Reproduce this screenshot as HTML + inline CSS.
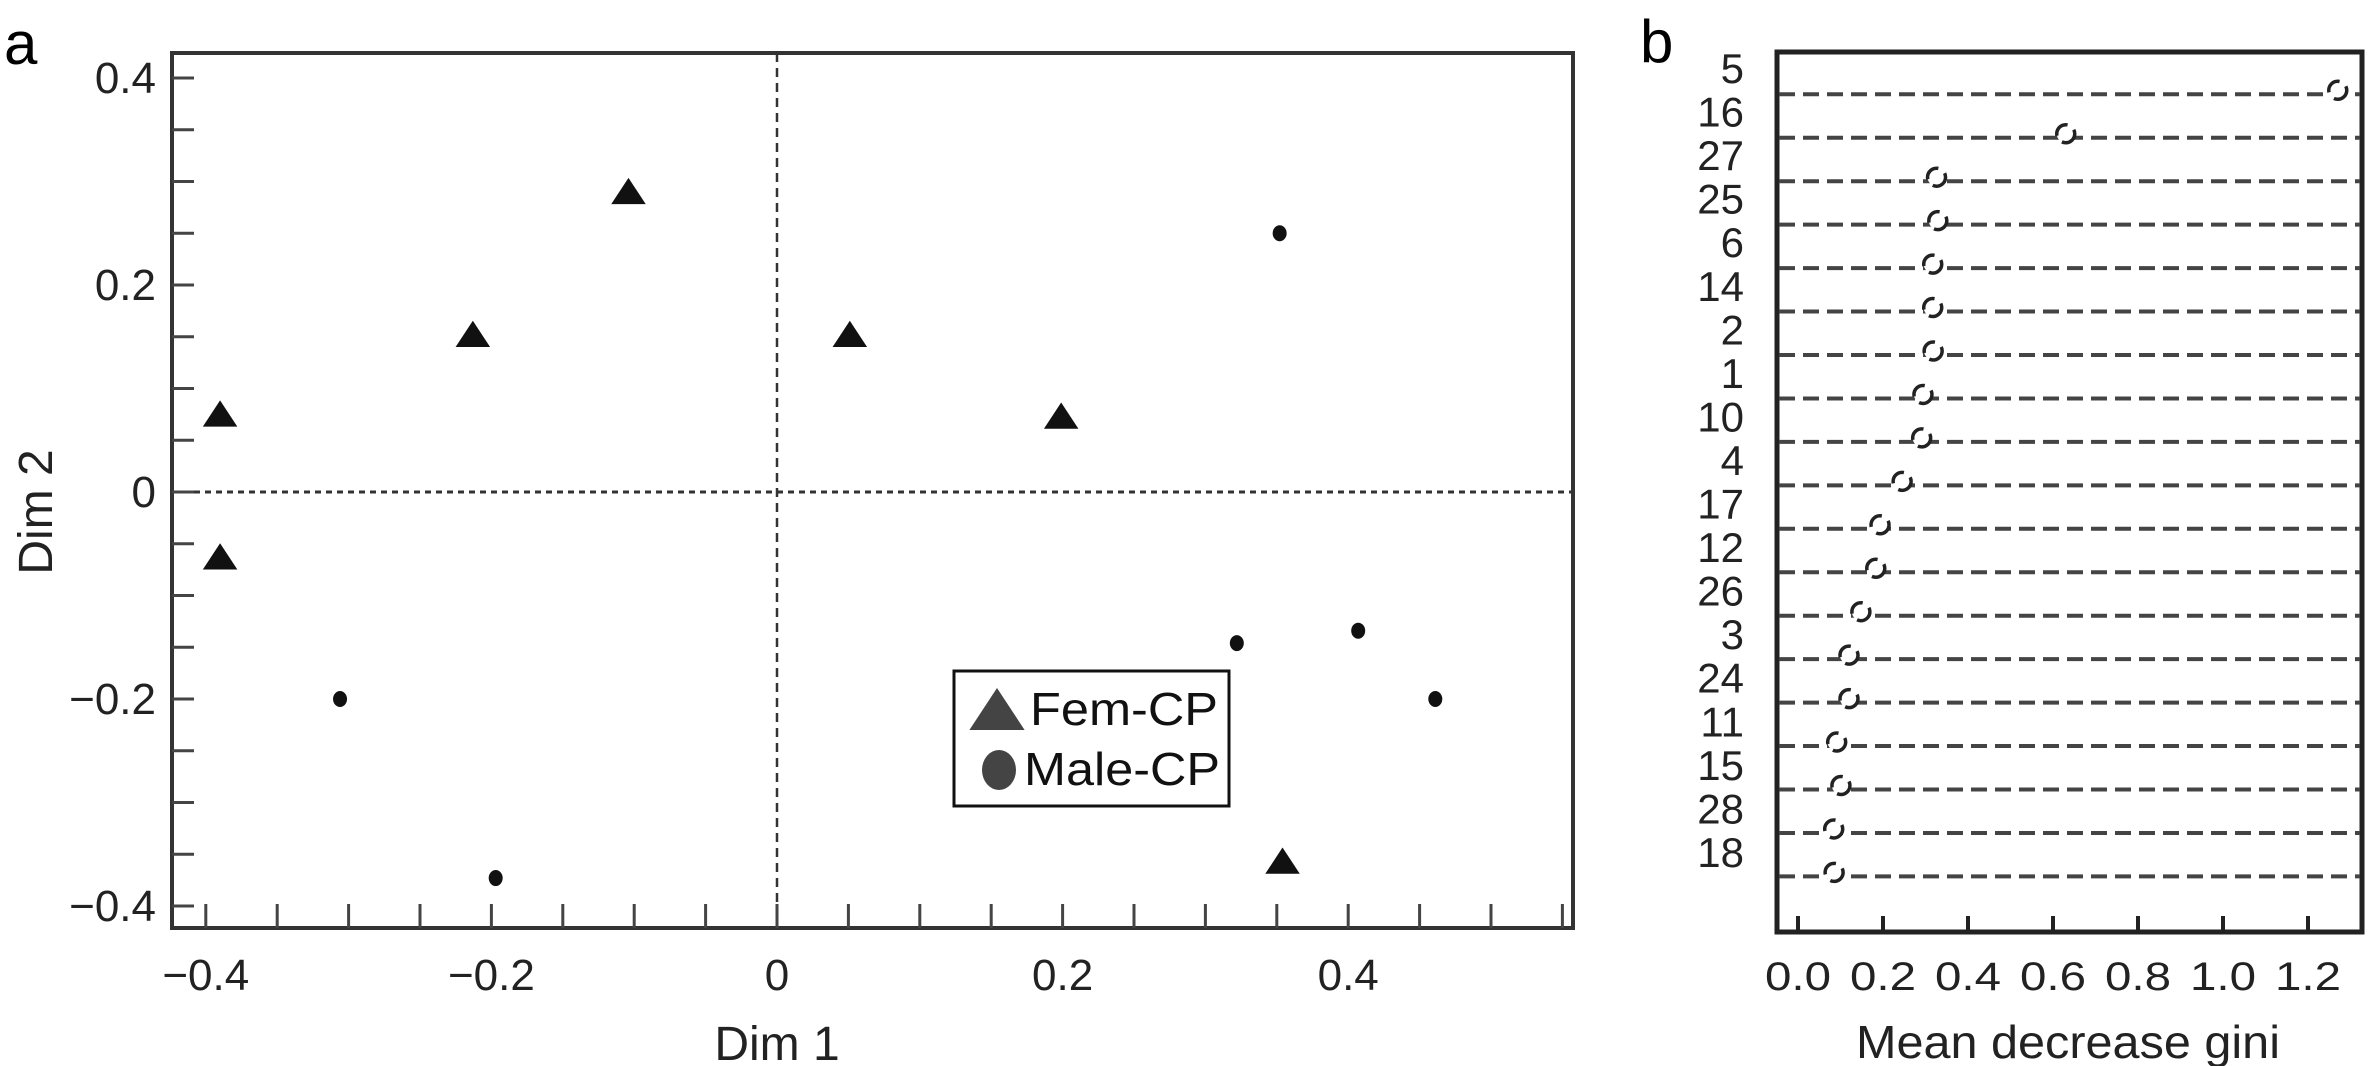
<!DOCTYPE html>
<html><head><meta charset="utf-8"><style>
html,body{margin:0;padding:0;background:#fff;}
svg{display:block;font-family:"Liberation Sans",sans-serif;}
</style></head><body>
<svg id="c" width="2376" height="1066" viewBox="0 0 2376 1066" xmlns="http://www.w3.org/2000/svg">
<text x="4" y="64" font-size="60">a</text>
<text x="1640" y="62" font-size="60">b</text>
<g id="pa"></g>
<g id="pb"></g>
</svg>
<script>
// Panel a data
const femX = [-0.39, -0.39, -0.213, -0.104, 0.051, 0.199, 0.354];
const femY = [0.074, -0.064, 0.151, 0.289, 0.151, 0.072, -0.358];
const maleX = [-0.306, -0.197, 0.352, 0.322, 0.407, 0.461];
const maleY = [-0.2, -0.373, 0.25, -0.146, -0.134, -0.2];
const aXTicks = [-0.4, -0.2, 0, 0.2, 0.4];
const aXTickLabels = ["\u22120.4", "\u22120.2", "0", "0.2", "0.4"];
const aYTicks = [0.4, 0.2, 0, -0.2, -0.4];
const aYTickLabels = ["0.4", "0.2", "0", "\u22120.2", "\u22120.4"];
// Panel b data
const bVars = ["5","16","27","25","6","14","2","1","10","4","17","12","26","3","24","11","15","28","18"];
const bLabels = ["5","16","27","25","6","14","2","1","10","4","17","12","26","3","24","11","15","28","18"];
const bValues = [1.27, 0.63, 0.326, 0.329, 0.317, 0.317, 0.318, 0.294, 0.291, 0.245, 0.193, 0.183, 0.148, 0.12, 0.12, 0.091, 0.101, 0.084, 0.085];
const bXTicks = [0, 0.2, 0.4, 0.6, 0.8, 1.0, 1.2];
const bXTickLabels = ["0.0","0.2","0.4","0.6","0.8","1.0","1.2"];

const NS = "http://www.w3.org/2000/svg";
function mk(parent, tag, attrs, txt) {
  const e = document.createElementNS(NS, tag);
  for (const k in attrs) e.setAttribute(k, attrs[k]);
  if (txt !== undefined) e.textContent = txt;
  parent.appendChild(e);
  return e;
}
// ---- Panel a ----
const pa = document.getElementById('pa');
const ax = v => 777 + v * 1428;
const ay = v => 492 - v * 1035;
const L = 172, R = 1573, T = 53, B = 928;
let e;
e = mk(pa, 'rect', {x: L, y: T, width: R - L, height: B - T, fill: 'none', stroke: '#333', 'stroke-width': 4});


e = mk(pa, 'line', {x1: ax(0), y1: T, x2: ax(0), y2: B, stroke: '#333', 'stroke-width': 2.5, 'stroke-dasharray': '9 6'});


e = mk(pa, 'line', {x1: L, y1: ay(0), x2: R, y2: ay(0), stroke: '#333', 'stroke-width': 3, 'stroke-dasharray': '6 5'});


for (let v = -0.4; v <= 0.551; v += 0.05) {
  e = mk(pa, 'line', {x1: ax(v), y1: B, x2: ax(v), y2: B - 24, stroke: '#444', 'stroke-width': 3});
  
  
}
for (let v = -0.4; v <= 0.401; v += 0.05) {
  e = mk(pa, 'line', {x1: L, y1: ay(v), x2: L + 22, y2: ay(v), stroke: '#444', 'stroke-width': 3});
  
  
}
aXTicks.forEach((v, i) => {
  e = mk(pa, 'text', {x: ax(v), y: 990, 'font-size': 44, 'text-anchor': 'middle', fill: '#222'}, aXTickLabels[i]);
  
  
});
aYTicks.forEach((v, i) => {
  e = mk(pa, 'text', {x: 156, y: ay(v) + 15, 'font-size': 44, 'text-anchor': 'end', fill: '#222'}, aYTickLabels[i]);
  
  
});
e = mk(pa, 'text', {x: 777, y: 1060, 'font-size': 48, 'text-anchor': 'middle', fill: '#222'}, 'Dim 1');


e = mk(pa, 'text', {x: 0, y: 0, 'font-size': 48, 'text-anchor': 'middle', fill: '#222', transform: 'translate(52,512) rotate(-90)'}, 'Dim 2');


function tri(g, cx, cy, s, fill) {
  return mk(g, 'polygon', {points: `${cx},${cy - s} ${cx - s * 1.15},${cy + s * 0.75} ${cx + s * 1.15},${cy + s * 0.75}`, fill: fill});
}
femX.forEach((v, i) => {
  e = tri(pa, ax(v), ay(femY[i]), 15, '#111');
  
  
});
maleX.forEach((v, i) => {
  e = mk(pa, 'ellipse', {cx: ax(v), cy: ay(maleY[i]), rx: 7, ry: 8, fill: '#111'});
  
  
});
const lg = mk(pa, 'g', {});


mk(lg, 'rect', {x: 954, y: 671, width: 275, height: 135, fill: '#fff', stroke: '#111', 'stroke-width': 3});
e = tri(lg, 997, 712, 24, '#444');


e = mk(lg, 'text', {x: 1030, y: 725, 'font-size': 46, fill: '#111', textLength: 188, lengthAdjust: 'spacingAndGlyphs'}, 'Fem-CP');


e = mk(lg, 'ellipse', {cx: 999, cy: 770, rx: 17, ry: 20, fill: '#444'});


e = mk(lg, 'text', {x: 1024, y: 785, 'font-size': 46, fill: '#111', textLength: 196, lengthAdjust: 'spacingAndGlyphs'}, 'Male-CP');



// ---- Panel b ----
const pb = document.getElementById('pb');
const bx = v => 1798 + v * 425;
const lineY = i => 94.3 + i * 43.45;
const labY = i => 68 + i * 43.55;
const BL = 1777, BR = 2362, BT = 52, BB = 932;
e = mk(pb, 'rect', {x: BL, y: BT, width: BR - BL, height: BB - BT, fill: 'none', stroke: '#222', 'stroke-width': 5});


bVars.forEach((name, i) => {
  e = mk(pb, 'line', {x1: BL + 2, y1: lineY(i), x2: BR - 2, y2: lineY(i), stroke: '#444', 'stroke-width': 4, 'stroke-dasharray': '16 8'});
  
  
});
bLabels.forEach((lab, i) => {
  e = mk(pb, 'text', {x: 1744, y: labY(i) + 15, 'font-size': 42, 'text-anchor': 'end', fill: '#222'}, lab);
  
  
});
bValues.forEach((v, i) => {
  e = mk(pb, 'circle', {cx: bx(v), cy: lineY(i) - 4, r: 9, fill: '#fff', stroke: '#222', 'stroke-width': 3.5, 'stroke-dasharray': '18 8'});
  
  
});
bXTicks.forEach((v, i) => {
  e = mk(pb, 'line', {x1: bx(v), y1: BB, x2: bx(v), y2: BB - 16, stroke: '#222', 'stroke-width': 4});
  
  
  e = mk(pb, 'text', {x: bx(v), y: 990, 'font-size': 40, 'text-anchor': 'middle', fill: '#222', textLength: 66, lengthAdjust: 'spacingAndGlyphs'}, bXTickLabels[i]);
  
  
});
e = mk(pb, 'text', {x: 2068, y: 1058, 'font-size': 46, 'text-anchor': 'middle', fill: '#222', textLength: 424, lengthAdjust: 'spacingAndGlyphs'}, 'Mean decrease gini');


</script>
</body></html>
